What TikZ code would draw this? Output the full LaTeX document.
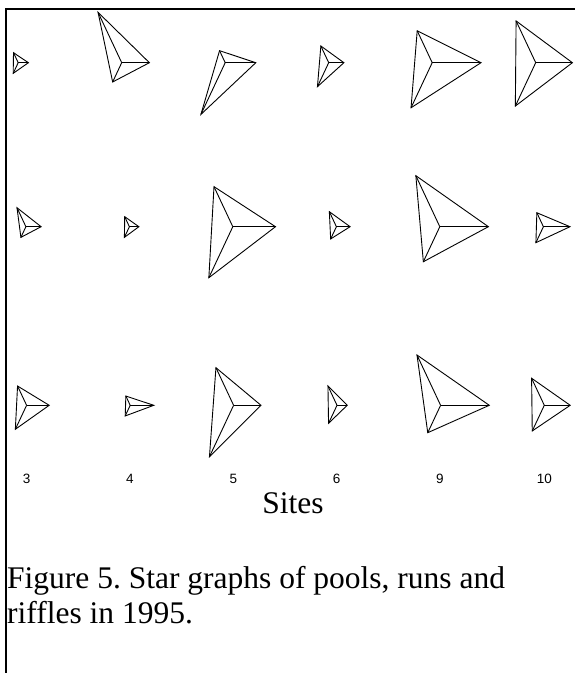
\documentclass[tikz,border=0pt]{standalone}
\usepackage{fontspec}
\setmainfont{Liberation Serif}
\newfontfamily\labelfont{Liberation Sans}
\frenchspacing
\tikzset{
  rayline/.style={line width=0.9pt, line join=miter},
  frameline/.style={line width=2pt},
  sitelabel/.style={font=\labelfont\fontsize{13.5}{15}\selectfont, anchor=base, inner sep=0pt},
  axistitle/.style={font=\fontsize{31.5}{36}\selectfont, anchor=base, inner sep=0pt},
  captionline/.style={font=\fontsize{31.5}{36}\selectfont, anchor=base west, inner sep=0pt}
}
% Star graph with three rays: right, upper left, lower left.
% #1,#2 centre; #3 right ray; #4 upper-left ray; #5 lower-left ray
\newcommand\stargraph[5]{%
  \draw[rayline] ({#1+#3},#2) -- ({#1-0.5*#4},{#2-1.065*#4}) -- ({#1-0.5*#5},{#2+1.065*#5}) -- cycle;
  \draw[rayline] (#1,#2) -- ({#1+#3},#2);
  \draw[rayline] (#1,#2) -- ({#1-0.5*#4},{#2-1.065*#4});
  \draw[rayline] (#1,#2) -- ({#1-0.5*#5},{#2+1.065*#5});
}
\begin{document}
\begin{tikzpicture}[x=1pt,y=-1pt]
\useasboundingbox (0,0) rectangle (575,673);
\fill[white] (0,0) rectangle (575,673);

% frame
\draw[frameline] (5.5,673) -- (5.5,8.5) -- (575,8.5);

% pools
\stargraph{18.2}{62.7}{10.2}{9.4}{10}
\stargraph{121.7}{62.7}{27.7}{47.3}{18.1}
\stargraph{225.2}{62.7}{30.6}{11.3}{48.5}
\stargraph{328.7}{62.7}{15.2}{15.7}{22.5}
\stargraph{432.2}{62.7}{48.8}{30}{42.3}
\stargraph{535.7}{62.7}{36.7}{39.2}{40.7}

% runs
\stargraph{25.9}{226.7}{15.2}{17.8}{10}
\stargraph{129.4}{226.7}{9.5}{9.4}{10}
\stargraph{232.8}{226.7}{42.7}{37.6}{47.9}
\stargraph{336.4}{226.7}{13.7}{14.1}{11.5}
\stargraph{439.8}{226.7}{48.6}{47.9}{32.9}
\stargraph{543.4}{226.7}{26.6}{13.1}{15}

% riffles
\stargraph{26.6}{405.3}{22.6}{18.1}{22.5}
\stargraph{130.2}{405.3}{23.6}{8.7}{10}
\stargraph{233.6}{405.3}{27.4}{35.3}{48.3}
\stargraph{337.0}{405.3}{10.2}{18.1}{16.9}
\stargraph{440.6}{405.3}{48.7}{47.2}{25.7}
\stargraph{544.3}{405.3}{25.9}{25.4}{24.1}

% site labels
\node[sitelabel] (s3)  at (26.7,483) {3};
\node[sitelabel] (s4)  at (130,483) {4};
\node[sitelabel] (s5)  at (233.3,483) {5};
\node[sitelabel] (s6)  at (336.7,483) {6};
\node[sitelabel] (s9)  at (440,483) {9};
\node[sitelabel] (s10) at (544.3,483) {10};

\node[axistitle] (sites) at (293,513) {Sites};

% caption
\node[captionline] (cap1) at (7,588) {Figure 5. Star graphs of pools, runs and};
\node[captionline] (cap2) at (7,623) {riffles in 1995.};
\end{tikzpicture}
\end{document}
